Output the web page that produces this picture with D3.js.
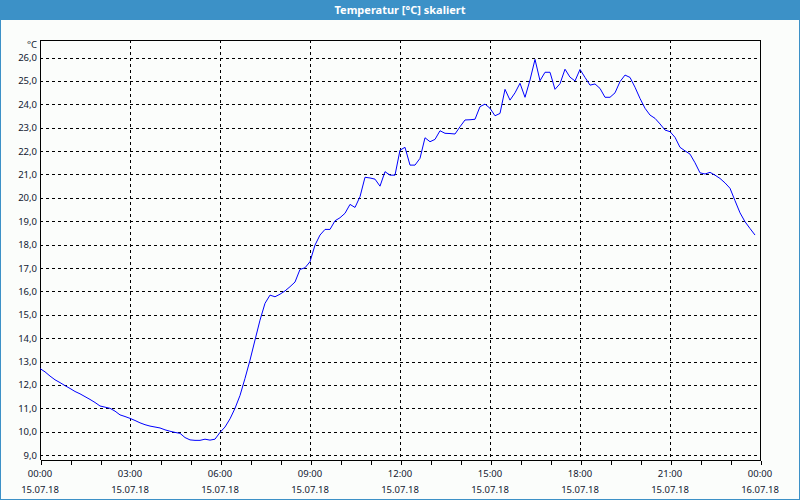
<!DOCTYPE html>
<html>
<head>
<meta charset="utf-8">
<script src="https://cdn.jsdelivr.net/npm/d3@7/dist/d3.min.js"></script>
<style>
  html, body { margin: 0; padding: 0; background: #ffffff; }
  svg { display: block; }
  text { font-family: "Noto Sans", "DejaVu Sans", sans-serif; }
</style>
</head>
<body>
<svg id="chart" width="800" height="500"></svg>
<script>
// ---- data ----
const chartTitle = "Temperatur [°C] skaliert";
const unitLabel = "°C";
const dayStart = "2018-07-15T00:00:00";
const dayEnd = "2018-07-16T00:00:00";

// minutes after midnight of 15.07.18
const minutes = [
  0,10,20,30,40,50,60,70,80,90,100,110,120,130,140,150,160,170,180,190,
  200,210,220,230,240,250,260,270,280,290,300,310,320,330,340,350,360,370,380,390,
  400,410,420,430,440,450,460,470,480,490,500,510,520,530,540,550,560,570,580,590,
  600,610,620,630,640,650,660,670,680,690,700,710,720,730,740,750,760,770,780,790,
  800,810,820,830,840,850,860,870,880,890,900,910,920,930,940,950,960,970,980,990,
  1000,1010,1020,1030,1040,1050,1060,1070,1080,1090,1100,1110,1120,1130,1140,1150,1160,1170,1180,1190,
  1200,1210,1220,1230,1240,1250,1260,1270,1280,1290,1300,1310,1320,1330,1340,1350,1360,1370,1380,1390,
  1400,1410,1420,1430
];

const temperature = [
  12.70,12.56,12.38,12.22,12.10,11.97,11.85,11.72,11.62,11.50,
  11.38,11.25,11.10,11.05,11.00,10.88,10.72,10.65,10.57,10.48,
  10.38,10.30,10.24,10.20,10.16,10.08,10.02,9.97,9.93,9.75,
  9.65,9.63,9.63,9.68,9.64,9.68,9.97,10.20,10.55,11.00,
  11.55,12.28,13.06,13.92,14.77,15.49,15.84,15.77,15.88,16.02,
  16.20,16.40,16.94,17.01,17.27,17.98,18.41,18.65,18.65,19.02,
  19.15,19.34,19.72,19.59,20.05,20.88,20.85,20.80,20.50,21.12,
  20.97,20.97,22.04,22.16,21.40,21.40,21.69,22.57,22.40,22.50,
  22.87,22.76,22.75,22.73,23.04,23.33,23.34,23.36,23.90,24.01,
  23.83,23.51,23.61,24.64,24.18,24.49,24.90,24.30,25.04,25.92,
  25.01,25.37,25.37,24.64,24.88,25.50,25.16,25.00,25.49,25.15,
  24.82,24.87,24.68,24.30,24.30,24.49,24.97,25.25,25.15,24.73,
  24.25,23.83,23.54,23.40,23.16,22.90,22.83,22.59,22.16,22.01,
  21.87,21.50,21.07,21.02,21.09,20.97,20.83,20.64,20.41,19.88,
  19.36,18.98,18.69,18.41
];

const yTickValues = [9,10,11,12,13,14,15,16,17,18,19,20,21,22,23,24,25,26];
const yDomain = [8.79, 26.75];
const xTickHours = [0,3,6,9,12,15,18,21,24];
const xTimeLabels = ["00:00","03:00","06:00","09:00","12:00","15:00","18:00","21:00","00:00"];
const xDateLabels = ["15.07.18","15.07.18","15.07.18","15.07.18","15.07.18","15.07.18","15.07.18","15.07.18","16.07.18"];

// ---- drawing ----
const W = 800, H = 500;
const plot = { left: 40, right: 760, top: 40, bottom: 460 };
const frameBlue = "#3c91c7";
const textColor = "#101830";

const svg = d3.select("#chart");

svg.append("rect").attr("x", 0).attr("y", 0).attr("width", W).attr("height", H).attr("fill", "#fbfdfb");
svg.append("rect").attr("x", 0).attr("y", 0).attr("width", W).attr("height", 20).attr("fill", frameBlue);
// frame borders
svg.append("rect").attr("x", 0).attr("y", 0).attr("width", 1).attr("height", H).attr("fill", frameBlue);
svg.append("rect").attr("x", W - 1).attr("y", 0).attr("width", 1).attr("height", H).attr("fill", frameBlue);
svg.append("rect").attr("x", 0).attr("y", H - 1).attr("width", W).attr("height", 1).attr("fill", frameBlue);

svg.append("text")
  .attr("x", W / 2).attr("y", 14)
  .attr("text-anchor", "middle")
  .attr("fill", "#ffffff")
  .attr("font-size", "11px")
  .attr("font-weight", "bold")
  .text(chartTitle);

const t0 = new Date(dayStart), t1 = new Date(dayEnd);
const x = d3.scaleTime().domain([t0, t1]).range([plot.left, plot.right]);
const y = d3.scaleLinear().domain(yDomain).range([plot.bottom, plot.top]);

const data = minutes.map((m, i) => ({ t: new Date(t0.getTime() + m * 60000), v: temperature[i] }));

// horizontal grid
const gGrid = svg.append("g").attr("shape-rendering", "crispEdges");
gGrid.selectAll("line.h").data(yTickValues).join("line")
  .attr("x1", plot.left).attr("x2", plot.right)
  .attr("y1", d => Math.round(y(d)) + 0.5).attr("y2", d => Math.round(y(d)) + 0.5)
  .attr("stroke", "#000").attr("stroke-width", 1).attr("stroke-dasharray", "3,3");

// vertical grid (inner)
const xTickDates = xTickHours.map(h => new Date(t0.getTime() + h * 3600000));
gGrid.selectAll("line.v").data(xTickDates.slice(1, -1)).join("line")
  .attr("x1", d => Math.round(x(d)) + 0.5).attr("x2", d => Math.round(x(d)) + 0.5)
  .attr("y1", plot.top).attr("y2", plot.bottom)
  .attr("stroke", "#000").attr("stroke-width", 1).attr("stroke-dasharray", "3,3");

// plot border (top, left, right)
svg.append("path")
  .attr("d", `M${plot.left + 0.5},${plot.bottom}V${plot.top + 0.5}H${plot.right + 0.5}V${plot.bottom}`)
  .attr("fill", "none").attr("stroke", "#000").attr("stroke-width", 1)
  .attr("shape-rendering", "crispEdges");

// x axis with hourly minor ticks
const xAxis = d3.axisBottom(x)
  .ticks(d3.timeHour.every(1))
  .tickSize(4)
  .tickFormat("");
const gx = svg.append("g")
  .attr("transform", `translate(0.5,${plot.bottom + 0.5})`)
  .call(xAxis);
gx.select(".domain").attr("stroke", "#000").attr("d", `M${plot.left},0H${plot.right}`);
gx.selectAll(".tick line").attr("stroke", "#000");
gx.attr("shape-rendering", "crispEdges");

// x labels (two lines)
const gxl = svg.append("g").attr("fill", textColor).attr("font-size", "9.5px").attr("text-anchor", "middle");
gxl.selectAll("text.time").data(xTickDates).join("text")
  .attr("x", d => x(d)).attr("y", 477)
  .text((d, i) => xTimeLabels[i]);
gxl.selectAll("text.date").data(xTickDates).join("text")
  .attr("x", d => x(d)).attr("y", 493)
  .text((d, i) => xDateLabels[i]);

// y axis labels
const yAxis = d3.axisLeft(y).tickValues(yTickValues).tickSize(0).tickPadding(3)
  .tickFormat(d => d3.format(".1f")(d).replace(".", ","));
const gy = svg.append("g").attr("transform", `translate(${plot.left},0)`).call(yAxis);
gy.select(".domain").remove();
gy.selectAll("text").attr("fill", textColor).attr("font-size", "9.5px")
  .attr("font-family", '"Noto Sans", "DejaVu Sans", sans-serif');

svg.append("text")
  .attr("x", 37).attr("y", 48)
  .attr("text-anchor", "end")
  .attr("fill", textColor)
  .attr("font-size", "9.5px")
  .text(unitLabel);

// temperature line
const line = d3.line().x(d => x(d.t)).y(d => y(d.v));
svg.append("path")
  .datum(data)
  .attr("d", line)
  .attr("fill", "none")
  .attr("stroke", "#0000ff")
  .attr("stroke-width", 1);
</script>
</body>
</html>
